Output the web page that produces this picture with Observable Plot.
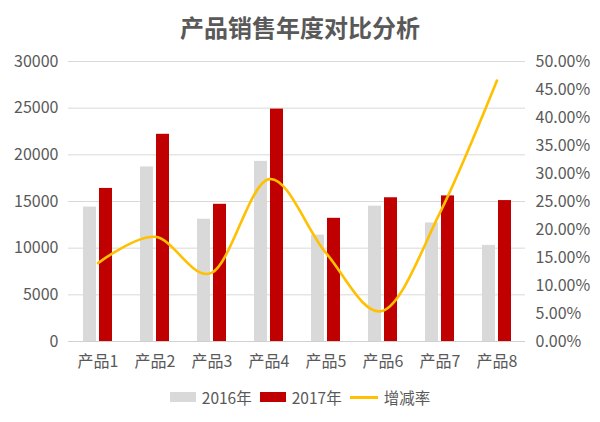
<!DOCTYPE html>
<html>
<head>
<meta charset="utf-8">
<script src="https://cdn.jsdelivr.net/npm/d3@7"></script>
<script src="https://cdn.jsdelivr.net/npm/@observablehq/plot@0.6"></script>
<style>
  body { margin: 0; background: #fff; font-family: "Noto Sans CJK SC", "Noto Sans", sans-serif; }
  #wrap { width: 600px; height: 422px; position: relative; }
  #title { position: absolute; top: 0; left: 0; width: 600px; height: 54px; line-height: 54px; text-align: center; font-size: 24px; font-weight: bold; color: #595959; z-index: 1; }
  #chart { position: absolute; top: 40px; left: 0; }
  #legend { position: absolute; top: 386px; left: 0; width: 600px; display: flex; justify-content: center; align-items: center; font-size: 15.5px; color: #595959; }
  .sw { display: inline-block; width: 26px; height: 10px; margin-right: 6px; }
  .ln { display: inline-block; width: 28px; height: 3px; margin-right: 6px; background: #ffc000; }
  .item { display: flex; align-items: center; margin: 0 4px; }
</style>
</head>
<body>
<div id="wrap">
  <div id="title">产品销售年度对比分析</div>
  <div id="chart"></div>
  <div id="legend"></div>
</div>
<script>
const categories = ["产品1", "产品2", "产品3", "产品4", "产品5", "产品6", "产品7", "产品8"];
const sales2016 = [14400, 18700, 13100, 19300, 11400, 14500, 12700, 10300];
const sales2017 = [16400, 22200, 14700, 24900, 13200, 15400, 15600, 15100];
const growthRate = [0.14, 0.187, 0.123, 0.29, 0.158, 0.055, 0.23, 0.466];
const leftTicks = [0, 5000, 10000, 15000, 20000, 25000, 30000];
const rightTicks = [0, 0.05, 0.10, 0.15, 0.20, 0.25, 0.30, 0.35, 0.40, 0.45, 0.50];
const seriesNames = ["2016年", "2017年", "增减率"];
const colors = ["#d9d9d9", "#c00000", "#ffc000"];

const leftMax = 30000, rightMax = 0.5;
const toLeft = p => p / rightMax * leftMax;

const data = categories.map((c, i) => ({cat: c, v16: sales2016[i], v17: sales2017[i], g: growthRate[i]}));

const chart = Plot.plot({
  width: 600,
  height: 340,
  marginTop: 21,
  marginBottom: 39,
  marginLeft: 68,
  marginRight: 75,
  style: {fontFamily: '"Noto Sans CJK SC", "Noto Sans", sans-serif', fontSize: "16px", color: "#595959", background: "transparent"},
  x: {domain: categories, padding: 0, axis: null},
  y: {domain: [0, leftMax], axis: null},
  marks: [
    Plot.gridY(leftTicks, {stroke: "#d9d9d9", strokeOpacity: 1}),
    Plot.barY(data, {x: "cat", y: "v16", fill: colors[0], insetLeft: 14, insetRight: 30}),
    Plot.barY(data, {x: "cat", y: "v17", fill: colors[1], insetLeft: 30, insetRight: 14}),
    Plot.ruleY([0], {stroke: "#d0d0d0"}),
    Plot.line(data, {x: "cat", y: d => toLeft(d.g), stroke: colors[2], strokeWidth: 2.6, curve: "cardinal"}),
    Plot.axisY(leftTicks, {anchor: "left", tickSize: 0, tickPadding: 10, fontSize: 16, label: null, tickFormat: d => String(d)}),
    Plot.axisY(rightTicks.map(toLeft), {anchor: "right", tickSize: 0, tickPadding: 10, fontSize: 16, label: null, tickFormat: v => (v / leftMax * rightMax * 100).toFixed(2) + "%"}),
    Plot.axisX(categories, {tickSize: 0, tickPadding: 14, fontSize: 16, label: null})
  ]
});
document.getElementById("chart").appendChild(chart);

const legend = document.getElementById("legend");
seriesNames.forEach((name, i) => {
  const item = document.createElement("div");
  item.className = "item";
  const sw = document.createElement("span");
  if (i < 2) { sw.className = "sw"; sw.style.background = colors[i]; }
  else { sw.className = "ln"; }
  item.appendChild(sw);
  const t = document.createElement("span");
  t.textContent = name;
  item.appendChild(t);
  legend.appendChild(item);
});
</script>
</body>
</html>
